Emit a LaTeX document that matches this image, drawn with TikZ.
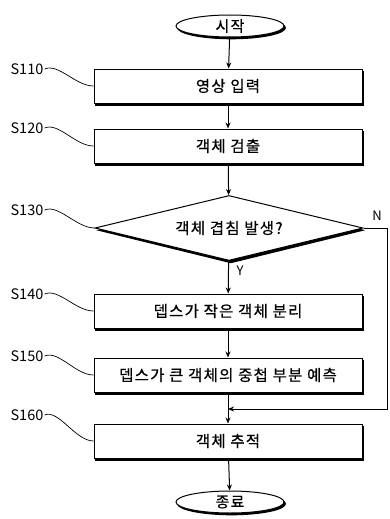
\documentclass[tikz,border=0pt]{standalone}
\usepackage{fontspec}
\setmainfont{Noto Sans CJK KR}
\newfontfamily\kfont[LetterSpace=8,FakeBold=0.6]{Noto Sans CJK KR}
\usetikzlibrary{shapes.geometric,arrows.meta}
\pgfdeclarelayer{background}
\pgfsetlayers{background,main}
\begin{document}
\begin{tikzpicture}[x=1pt,y=-1pt,
  proc/.style={draw,line width=1pt,fill=white,minimum width=268pt,minimum height=34pt,inner sep=0pt,font=\kfont\fontsize{15.5}{17}\selectfont},
  term/.style={draw,ellipse,line width=1pt,fill=white,minimum width=108pt,minimum height=22pt,inner sep=0pt,font=\kfont\fontsize{15}{17}\selectfont},
  dec/.style={draw,diamond,aspect=4.1,line width=1pt,fill=white,minimum width=268pt,minimum height=65pt,inner sep=0pt,font=\kfont\fontsize{15.5}{17}\selectfont},
  shadow/.style={fill=black},
  slab/.style={font=\fontsize{14.5}{16}\selectfont,inner sep=1pt},
  lead/.style={line width=0.7pt},
  arr/.style={line width=1pt,-{Stealth[length=6pt,width=5pt]}},
  yn/.style={font=\fontsize{13}{15}\selectfont,inner sep=0pt}
]
\useasboundingbox (0,0) rectangle (389,519);
\node[term] (st) at (230,26) {시작};
\node[proc] (b1) at (228,86) {영상 입력};
\node[proc] (b2) at (228,146) {객체 검출};
\node[dec]  (d)  at (229,228) {객체 겹침 발생?};
\node[proc] (b3) at (228,311) {뎁스가 작은 객체 분리};
\node[proc] (b4) at (228,375) {뎁스가 큰 객체의 중첩 부분 예측};
\node[proc] (b5) at (228,441) {객체 추적};
\node[term] (en) at (230,502) {종료};

\begin{pgfonlayer}{background}
\foreach \n in {b1,b2,b3,b4,b5}
  \fill[shadow] ([shift={(1.8,2)}]\n.south west) rectangle ([shift={(1.8,2)}]\n.north east);
\fill[shadow] ([shift={(1.8,2.2)}]d.north) -- ([shift={(1.8,2.2)}]d.east) -- ([shift={(1.8,2.2)}]d.south) -- ([shift={(1.8,2.2)}]d.west) -- cycle;
\fill[shadow] ([shift={(1.5,1.8)}]st.center) ellipse [x radius=54.5, y radius=11.5];
\fill[shadow] ([shift={(1.5,1.8)}]en.center) ellipse [x radius=54.5, y radius=11.5];
\end{pgfonlayer}

\node[slab] (l1) at (27,69) {S110};
\node[slab] (l2) at (27,128) {S120};
\node[slab] (l3) at (27,210) {S130};
\node[slab] (l4) at (27,294) {S140};
\node[slab] (l5) at (27,356) {S150};
\node[slab] (l6) at (27,415) {S160};

\draw[lead] (l1.east) .. controls +(14,-6) and +(-18,0) .. (b1.west);
\draw[lead] (l2.east) .. controls +(14,-6) and +(-18,0) .. (b2.west);
\draw[lead] (l3.east) .. controls +(14,-6) and +(-18,0) .. (d.west);
\draw[lead] (l4.east) .. controls +(14,-6) and +(-18,0) .. (b3.west);
\draw[lead] (l5.east) .. controls +(14,-6) and +(-18,0) .. (b4.west);
\draw[lead] (l6.east) .. controls +(14,-6) and +(-18,0) .. (b5.west);

\draw[arr] (st) -- (b1);
\draw[arr] (b1) -- (b2);
\draw[arr] (b2) -- (d);
\draw[arr] (d) -- (b3);
\draw[arr] (b3) -- (b4);
\draw[arr] (b4) -- (b5);
\draw[arr] (b5) -- (en);

\coordinate (r1) at (387,228);
\coordinate (r2) at (387,409);
\coordinate (j) at (228,409);
\draw[arr] (d.east) -- (r1) -- (r2) -- (j);

\node[yn] (ny) at (377,216) {N};
\node[yn] (yy) at (240,271) {Y};
\end{tikzpicture}
\end{document}
